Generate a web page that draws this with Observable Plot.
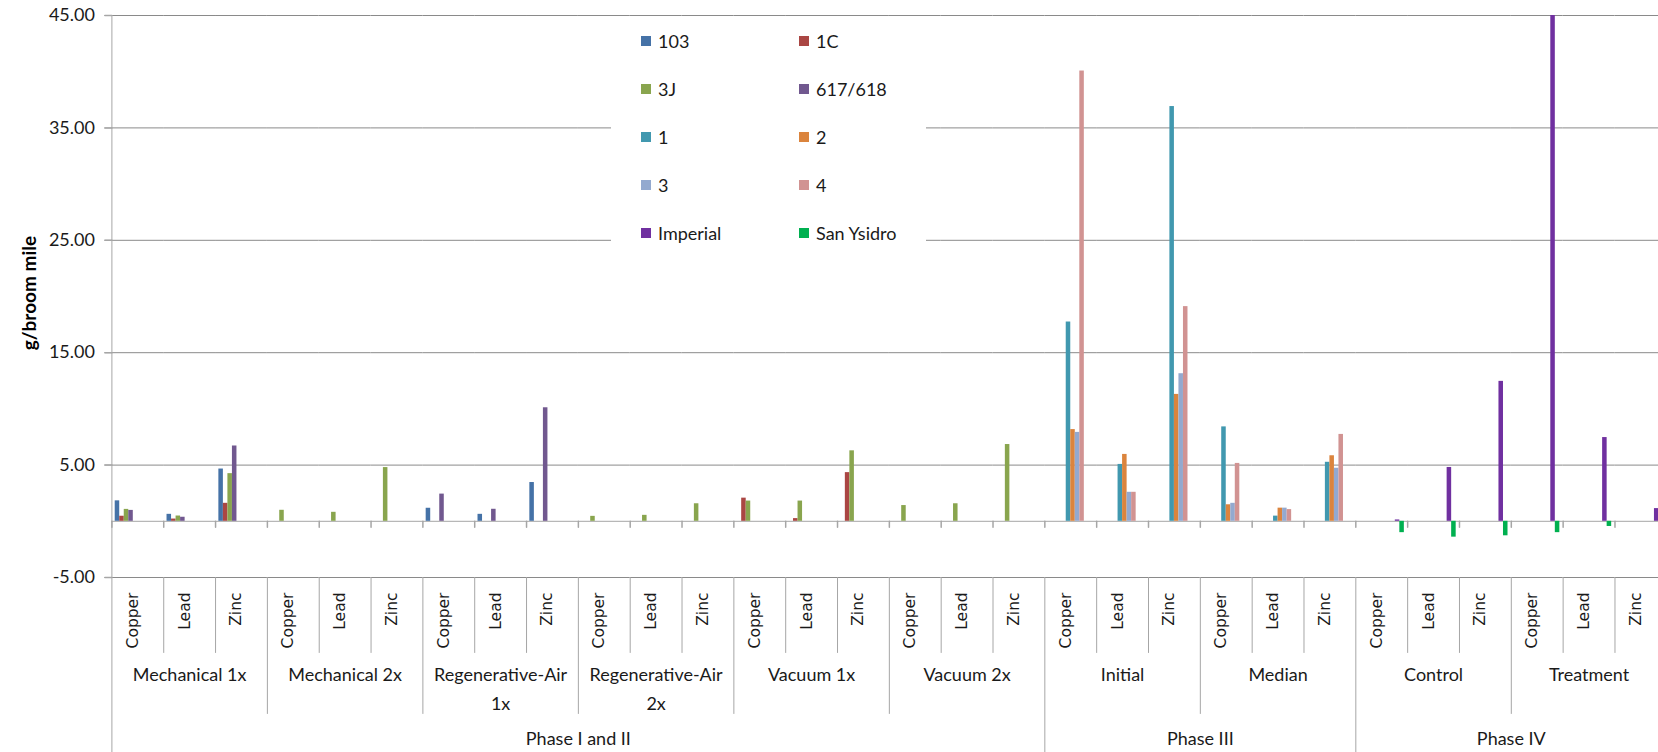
<!DOCTYPE html>
<html><head><meta charset="utf-8">
<script src="https://cdn.jsdelivr.net/npm/d3@7"></script>
<script src="https://cdn.jsdelivr.net/npm/@observablehq/plot@0.6"></script>
<style>
html,body{margin:0;padding:0;background:#fff;overflow:hidden;}
#wrap{position:relative;width:1658px;height:752px;}
#legend{position:absolute;left:611px;top:17px;width:315px;background:#fff;display:grid;grid-template-columns:158px 157px;grid-auto-rows:47.9px;font-family:Lato,sans-serif;font-size:18px;color:#1a1a1a;}
.item{display:flex;align-items:center;padding-left:30px;}
.sw{width:10px;height:10px;margin-right:7px;flex:none;}
</style></head><body><div id="wrap"><div id="legend"></div></div>
<script>
// ---- data ----
const phases = ["Phase I and II", "Phase III", "Phase IV"];
const groups = ["Mechanical 1x", "Mechanical 2x", "Regenerative-Air\n1x", "Regenerative-Air\n2x", "Vacuum 1x", "Vacuum 2x", "Initial", "Median", "Control", "Treatment"];
const groupPhase = [0, 0, 0, 0, 0, 0, 1, 1, 2, 2];
const metals = ["Copper", "Lead", "Zinc"];
const series = ["103", "1C", "3J", "617/618", "1", "2", "3", "4", "Imperial", "San Ysidro"];
const colors = ["#4572A7", "#AA4643", "#89A54E", "#71588F", "#4198AF", "#DB843D", "#93A9CF", "#D19392", "#7030A0", "#00B050"];
const yTicks = [-5, 5, 15, 25, 35, 45];
const yLabel = "g/broom mile";
const _ = null;
// values per series, 30 categories (group x metal)
const v103 = [1.82, 0.62, 4.65, _, _, _, 1.16, 0.62, 3.45, _, _, _, _, _, _, _, _, _, _, _, _, _, _, _, _, _, _, _, _, _];
const v1C = [0.45, 0.20, 1.60, _, _, _, _, _, _, _, _, _, 2.06, 0.24, 4.33, _, _, _, _, _, _, _, _, _, _, _, _, _, _, _];
const v3J = [1.06, 0.47, 4.24, 0.98, 0.80, 4.78, _, _, _, 0.44, 0.53, 1.56, 1.80, 1.80, 6.27, 1.40, 1.56, 6.83, _, _, _, _, _, _, _, _, _, _, _, _];
const v617 = [0.97, 0.36, 6.70, _, _, _, 2.42, 1.07, 10.10, _, _, _, _, _, _, _, _, _, _, _, _, _, _, _, _, _, _, _, _, _];
const v1 = [_, _, _, _, _, _, _, _, _, _, _, _, _, _, _, _, _, _, 17.73, 5.06, 36.90, 8.40, 0.46, 5.25, _, _, _, _, _, _];
const v2 = [_, _, _, _, _, _, _, _, _, _, _, _, _, _, _, _, _, _, 8.16, 5.95, 11.29, 1.47, 1.17, 5.83, _, _, _, _, _, _];
const v3 = [_, _, _, _, _, _, _, _, _, _, _, _, _, _, _, _, _, _, 7.91, 2.58, 13.13, 1.60, 1.17, 4.72, _, _, _, _, _, _];
const v4 = [_, _, _, _, _, _, _, _, _, _, _, _, _, _, _, _, _, _, 40.06, 2.58, 19.10, 5.15, 1.04, 7.73, _, _, _, _, _, _];
const vImperial = [_, _, _, _, _, _, _, _, _, _, _, _, _, _, _, _, _, _, _, _, _, _, _, _, 0.12, 4.79, 12.45, 45.00, 7.45, 1.13];
const vSanYsidro = [_, _, _, _, _, _, _, _, _, _, _, _, _, _, _, _, _, _, _, _, _, _, _, _, -1.01, -1.41, -1.29, -1.01, -0.46, _];
const seriesValues = [v103, v1C, v3J, v617, v1, v2, v3, v4, vImperial, vSanYsidro];

// ---- derived tables ----
const cats = [];
groups.forEach((g, gi) => metals.forEach(m => cats.push(`${gi}|${m}`)));
const catRows = cats.map(c => ({cat: c, metal: c.split("|")[1]}));
const rows = [];
series.forEach((s, si) => seriesValues[si].forEach((v, ci) => { if (v != null) rows.push({cat: cats[ci], series: s, value: v}); }));
const groupRows = groups.map((g, gi) => ({cat: `${gi}|${metals[1]}`, label: g}));
const phaseRows = phases.map((p, pi) => {
  const idx = groupPhase.map((gp, gi) => gp === pi ? gi : -1).filter(i => i >= 0);
  const first = idx[0] * 3, n = idx.length * 3;
  return {cat: cats[first + n / 2 - 1], label: p};
});
const metalBounds = cats.filter(c => !c.endsWith("|" + metals[0]));
const groupBounds = cats.filter((c, i) => i % 3 === 0 && i > 0 && groupPhase[i / 3] === groupPhase[i / 3 - 1]);
const phaseBounds = cats.filter((c, i) => i % 3 === 0 && i > 0 && groupPhase[i / 3] !== groupPhase[i / 3 - 1]);

// ---- layout ----
const W = 1658, H = 752, mT = 15, mB = 175, mL = 111.4, plotRight = 1666.3;
const lineGray = "#a6a6a6";
const ink = "#1a1a1a";
const line = {draw(context, l) { context.moveTo(0, 0); context.lineTo(0, -l); }};
const sep = (data, len, anchor = "bottom-left") =>
  Plot.vector(data, {fx: d => d, frameAnchor: anchor, length: len, rotate: 180, anchor: "start", shape: line, stroke: lineGray, strokeWidth: 1});

const chart = Plot.plot({
  width: W, height: H, marginTop: mT, marginBottom: mB, marginLeft: mL, marginRight: 0,
  style: {fontFamily: "Lato, sans-serif", fontSize: "18px", background: "white", color: ink},
  fx: {domain: cats, range: [mL, plotRight], round: false, paddingInner: 0, paddingOuter: 0, axis: null, label: null},
  x: {domain: series, round: false, paddingInner: 0, paddingOuter: 0.73, axis: null},
  y: {domain: [yTicks[0], yTicks[yTicks.length - 1]], axis: null},
  color: {domain: series, range: colors},
  marks: [
    Plot.gridY(yTicks, {stroke: "#8a8a8a", strokeOpacity: 1}),
    Plot.ruleY([0], {stroke: lineGray}),
    Plot.barY(rows, {fx: "cat", x: "series", y: "value", fill: "series"}),
    // zero-line tick marks at category boundaries
    Plot.vector(cats, {fx: d => d, y: 0, frameAnchor: "left", length: 6, rotate: 180, anchor: "start", shape: line, stroke: lineGray}),
    // left axis line (full height)
    sep([cats[0]], H - mT, "top-left"),
    // separators in the label area
    sep(metalBounds, 75),
    sep(groupBounds, 136),
    sep(phaseBounds, 175),
    // metal labels
    Plot.text(catRows, {fx: "cat", text: "metal", frameAnchor: "bottom", rotate: -90, textAnchor: "end", dy: 15, fontFamily: "DejaVu Sans", fontSize: 15.5, fill: ink}),
    // group and phase labels
    Plot.text(groupRows, {fx: "cat", text: "label", frameAnchor: "bottom", lineAnchor: "top", dy: 82.5, lineHeight: 1.64, fontSize: 18, fill: ink}),
    Plot.text(phaseRows, {fx: "cat", text: "label", frameAnchor: "bottom-right", textAnchor: "middle", lineAnchor: "top", dy: 154.5, fontSize: 18, fill: ink}),
    // y axis
    Plot.axisY(yTicks, {anchor: "left", tickSize: 7, tickPadding: 10, tickFormat: d => d.toFixed(2), fontSize: 18, stroke: lineGray, fill: ink, label: null}),
    Plot.vector(yTicks, {fx: () => cats[0], y: d => d, frameAnchor: "left", length: 7, rotate: -90, anchor: "start", shape: line, stroke: lineGray}),
    Plot.text([{cat: cats[0], label: yLabel, y: 20.3}], {fx: "cat", y: "y", text: "label", frameAnchor: "left", textAnchor: "middle", rotate: -90, dx: -82, fontSize: 19, fontWeight: "bold", fill: "#000"})
  ]
});
document.getElementById("wrap").prepend(chart);

// legend
const legend = document.getElementById("legend");
series.forEach((s, i) => {
  const item = document.createElement("div");
  item.className = "item";
  const sw = document.createElement("span");
  sw.className = "sw";
  sw.style.background = colors[i];
  const t = document.createElement("span");
  t.textContent = s;
  item.append(sw, t);
  legend.append(item);
});
</script>
</body></html>
